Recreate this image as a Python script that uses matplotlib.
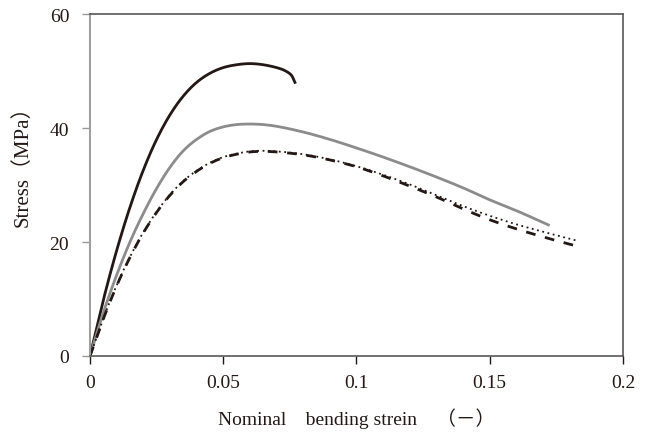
import matplotlib.pyplot as plt
import numpy as np

# curve data (strain, stress MPa)
strain_a = [0, 0.005, 0.01, 0.015, 0.02, 0.025, 0.03, 0.035, 0.04, 0.045,
            0.05, 0.055, 0.06, 0.065, 0.07, 0.073, 0.0755, 0.0769]
stress_a = [0, 9.8, 18.5, 26.1, 32.6, 38.0, 42.3, 45.6, 48.0, 49.6,
            50.6, 51.1, 51.3, 51.1, 50.6, 50.1, 49.3, 48.0]

strain_b = [0, 0.005, 0.01, 0.015, 0.02, 0.025, 0.03, 0.035, 0.04, 0.045,
            0.05, 0.055, 0.06, 0.065, 0.07, 0.08, 0.09, 0.10, 0.11, 0.12,
            0.13, 0.14, 0.15, 0.16, 0.172]
stress_b = [0, 7.6, 14.2, 20.0, 25.0, 29.4, 33.1, 36.0, 38.0, 39.4,
            40.2, 40.6, 40.7, 40.6, 40.3, 39.3, 38.0, 36.5, 34.9, 33.2,
            31.4, 29.5, 27.4, 25.5, 23.0]

strain_c = [0, 0.005, 0.01, 0.015, 0.02, 0.025, 0.03, 0.035, 0.04, 0.045,
            0.05, 0.055, 0.06, 0.065, 0.07, 0.08, 0.09, 0.10, 0.11, 0.12,
            0.13, 0.14, 0.15, 0.16, 0.17, 0.184]
stress_c = [0, 6.5, 12.3, 17.3, 21.6, 25.2, 28.2, 30.6, 32.4, 33.8,
            34.8, 35.4, 35.8, 35.9, 35.8, 35.3, 34.4, 33.2, 31.6, 29.8,
            27.9, 25.8, 23.9, 22.3, 20.9, 19.1]

strain_d = [0, 0.005, 0.01, 0.015, 0.02, 0.025, 0.03, 0.035, 0.04, 0.045,
            0.05, 0.055, 0.06, 0.065, 0.07, 0.08, 0.09, 0.10, 0.11, 0.12,
            0.13, 0.14, 0.15, 0.16, 0.17, 0.183]
stress_d = [0, 6.6, 12.4, 17.4, 21.7, 25.3, 28.3, 30.7, 32.5, 33.9,
            34.9, 35.5, 35.9, 36.0, 35.9, 35.4, 34.5, 33.3, 31.8, 30.1,
            28.2, 26.3, 24.6, 23.1, 21.8, 20.2]

xticks = [0, 0.05, 0.1, 0.15, 0.2]
xticklabels = ["0", "0.05", "0.1", "0.15", "0.2"]
yticks = [0, 20, 40, 60]


def smooth(x, y, n=40):
    # centripetal Catmull-Rom through the read points, in pixel-like units
    p = np.column_stack([np.asarray(x) / 0.2 * 533, np.asarray(y) / 60.0 * 342])
    p = np.vstack([2 * p[0] - p[1], p, 2 * p[-1] - p[-2]])
    out = []
    for i in range(1, len(p) - 2):
        p0, p1, p2, p3 = p[i - 1], p[i], p[i + 1], p[i + 2]
        t0 = 0.0
        t1 = t0 + np.linalg.norm(p1 - p0) ** 0.5
        t2 = t1 + np.linalg.norm(p2 - p1) ** 0.5
        t3 = t2 + np.linalg.norm(p3 - p2) ** 0.5
        t = np.linspace(t1, t2, n)[:, None]
        a1 = (t1 - t) / (t1 - t0) * p0 + (t - t0) / (t1 - t0) * p1
        a2 = (t2 - t) / (t2 - t1) * p1 + (t - t1) / (t2 - t1) * p2
        a3 = (t3 - t) / (t3 - t2) * p2 + (t - t2) / (t3 - t2) * p3
        b1 = (t2 - t) / (t2 - t0) * a1 + (t - t0) / (t2 - t0) * a2
        b2 = (t3 - t) / (t3 - t1) * a2 + (t - t1) / (t3 - t1) * a3
        c = (t2 - t) / (t2 - t1) * b1 + (t - t1) / (t2 - t1) * b2
        out.append(c if i == 1 else c[1:])
    out = np.vstack(out)
    return out[:, 0] / 533 * 0.2, out[:, 1] / 342 * 60.0


plt.rcParams["font.family"] = ["Liberation Serif", "Noto Sans CJK JP"]

fig = plt.figure(figsize=(6.54, 4.39), dpi=100)
ax = fig.add_axes([0.1376, 0.1868, 0.815, 0.779])

ax.plot(*smooth(strain_a, stress_a), color="#231815", lw=2.0)
ax.plot(*smooth(strain_b, stress_b), color="#8c8c8c", lw=2.0)
ax.plot(*smooth(strain_c, stress_c), color="#231815", lw=2.0, dashes=(3.5, 3.5))
ax.plot(*smooth(strain_d, stress_d), color="#231815", lw=1.3, dashes=(1, 2))

ax.set_xlim(0, 0.2)
ax.set_ylim(0, 60)
ax.set_xticks(xticks)
ax.set_xticklabels(xticklabels)
ax.set_yticks(yticks)
ax.tick_params(direction="out", length=6, width=1, labelsize=14,
               colors="#231815")
ax.tick_params(axis="y", color="#999999", pad=9)
ax.tick_params(axis="x", pad=7)

for s in ["top", "right", "bottom"]:
    ax.spines[s].set_color("#595757")
    ax.spines[s].set_linewidth(1.2)
ax.spines["left"].set_color("#9f9f9f")
ax.spines["left"].set_linewidth(1.5)

ax.set_ylabel("Stress（MPa）", fontsize=15, color="#231815")
ax.yaxis.set_label_coords(-0.107, 0.573)
ax.set_xlabel("Nominal　bending strein　（－）", fontsize=14,
              color="#231815", labelpad=12)

fig.savefig("out.png", dpi=100)
